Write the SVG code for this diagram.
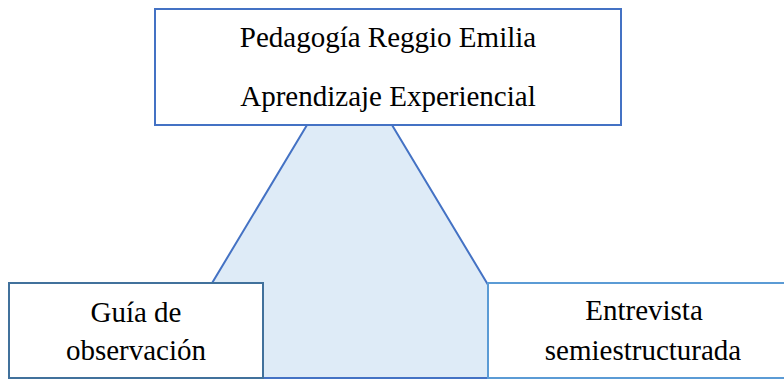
<svg xmlns="http://www.w3.org/2000/svg" width="784" height="379" viewBox="0 0 784 379">
<style>
.box{fill:#ffffff;stroke-width:2}
.t{font-family:"Liberation Serif","Times New Roman",serif;font-size:29px;fill:#000000;text-anchor:middle}
</style>
<rect width="784" height="379" fill="#ffffff"/>
<g id="connectors">
<polygon points="307,125 392,125 544,378 155,378" fill="#DEEBF7" stroke="#4472C4" stroke-width="2"/>
</g>
<g id="top">
<rect class="box" x="155" y="9" width="466" height="116" stroke="#4472C4"/>
<text class="t" x="388" y="47">Pedagogía Reggio Emilia</text>
<text class="t" x="388" y="106">Aprendizaje Experiencial</text>
</g>
<g id="left">
<rect class="box" x="9" y="283" width="254" height="95" stroke="#41719C"/>
<text class="t" x="136" y="322">Guía de</text>
<text class="t" x="136" y="360">observación</text>
</g>
<g id="right">
<rect class="box" x="488" y="283" width="310" height="95" stroke="#5B9BD5"/>
<text class="t" x="644" y="320">Entrevista</text>
<text class="t" x="643" y="360">semiestructurada</text>
</g>
</svg>
